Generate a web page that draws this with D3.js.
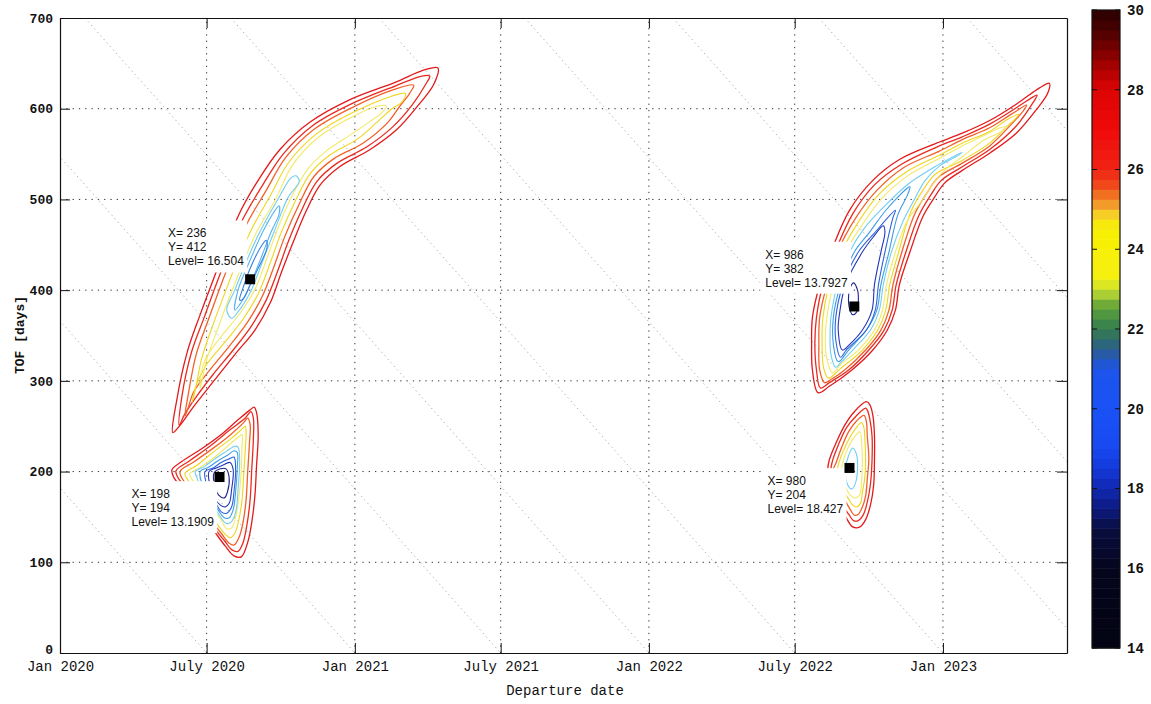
<!DOCTYPE html>
<html>
<head>
<meta charset="utf-8">
<script src="https://cdn.jsdelivr.net/npm/d3@7"></script>
<style>
  body { margin: 0; background: #fff; }
  svg { display: block; }
</style>
</head>
<body>
<script>
// ---- axis data ----
const xTickDays = [0, 182, 366, 547, 731, 912, 1096];
const xTickLabels = ["Jan 2020", "July 2020", "Jan 2021", "July 2021", "Jan 2022", "July 2022", "Jan 2023"];
const yTicks = [0, 100, 200, 300, 400, 500, 600, 700];
// constant arrival date lines (days from Jan 2020)
const arrivalDays = [182, 366, 547, 731, 912, 1096, 1277, 1461, 1642, 1826];

// ---- colorbar ----
const cbTicks = [14, 16, 18, 20, 22, 24, 26, 28, 30];
const cmapValues = [14, 16, 17, 17.5, 18, 18.5, 19, 20, 21, 21.4, 21.8, 22.2, 22.6, 23, 23.3, 24.5, 24.8, 25, 25.3, 25.6, 26, 27, 28, 28.5, 29, 29.5, 30];
const cmapColors = ["#030312", "#05061e", "#080e40", "#0c1a80", "#1028b0", "#1438d8", "#1848f0", "#1a52f6", "#1c54ec", "#2a5aa0", "#2f7060", "#3e8a48", "#6aa838", "#c8e030", "#f6f010", "#f8f000", "#f8e020", "#f4b030", "#f07c22", "#f04a1a", "#f02414", "#f00a0a", "#dc0404", "#b00000", "#7a0000", "#4a0000", "#2a0000"];

// ---- contour line colours by level ----
const lineLevels = [17, 18, 19, 20, 21, 24, 24.5, 25.5, 26, 26.5];
const lineColors = ["#1a2290", "#2234b8", "#2c62dc", "#3d9be6", "#72cdf2", "#f3ea66", "#f0d51e", "#f2602a", "#ea2a20", "#e31a1c"];

// ---- contours: [departure day, TOF days] ----
const contoursA = [
  {level: 26.5, pts: [[140,243],[145,279],[158,332],[174,373],[190,411],[205,446],[223,485],[246,521],[273,555],[310,585],[360,610],[416,629],[453,643],[469,645],[464,627],[443,602],[418,577],[385,555],[347,536],[323,516],[306,488],[289,452],[275,420],[261,386],[242,356],[217,329],[192,301],[167,273],[149,251]]},
  {level: 26, pts: [[148,251],[151,281],[163,331],[179,370],[195,409],[210,443],[228,480],[251,515],[277,550],[313,581],[361,605],[416,625],[449,636],[459,636],[454,627],[437,604],[413,580],[381,558],[344,540],[319,520],[302,492],[284,455],[271,423],[256,389],[238,361],[215,334],[190,307],[168,281],[154,262]]},
  {level: 25.5, pts: [[155,261],[159,284],[169,329],[184,367],[200,406],[215,440],[233,475],[256,510],[280,546],[315,577],[362,601],[414,621],[439,626],[434,617],[422,603],[407,585],[376,562],[340,545],[315,525],[297,495],[279,459],[266,427],[251,393],[233,365],[210,338],[186,312],[166,288],[159,270]]},
  {level: 24.5, pts: [[164,276],[168,290],[176,325],[190,362],[206,400],[221,434],[240,471],[261,504],[284,541],[318,572],[364,596],[409,613],[429,617],[424,607],[412,600],[397,588],[370,567],[335,549],[311,529],[292,498],[274,462],[261,430],[246,396],[228,369],[206,344],[182,318],[169,295]]},
  {level: 24, pts: [[174,292],[182,323],[196,358],[212,396],[227,429],[244,464],[267,499],[288,537],[320,568],[365,592],[395,603],[405,603],[400,596],[385,586],[362,572],[330,553],[308,534],[287,502],[269,465],[256,433],[241,399],[223,374],[201,350],[181,325],[175,307]]},
  {level: 21, pts: [[213,369],[207,378],[217,400],[231,431],[248,464],[271,501],[287,524],[293,526],[297,520],[283,502],[266,465],[252,433],[237,399],[221,376]]},
  {level: 20.5, pts: [[217,378],[221,400],[235,431],[251,463],[267,488],[272,493],[272,484],[262,464],[248,432],[233,400],[223,384]]},
  {level: 19.5, pts: [[223,389],[227,402],[238,428],[251,450],[256,455],[257,447],[246,424],[236,406],[228,391]]}
];

const contoursB = [
  {level: 26.5, pts: [[139,202],[151,211],[174,224],[199,240],[221,257],[236,268],[241,271],[244,265],[246,240],[244,207],[242,174],[238,144],[233,122],[225,106],[216,107],[205,118],[190,136],[171,158],[153,180],[141,194]]},
  {level: 26, pts: [[144,201],[161,212],[186,228],[211,246],[230,259],[237,266],[240,259],[240,235],[238,202],[236,169],[232,141],[227,121],[221,112],[213,114],[204,124],[189,140],[171,161],[155,183],[146,194]]},
  {level: 25.5, pts: [[149,200],[165,210],[189,225],[212,241],[228,254],[233,259],[236,252],[235,229],[233,200],[231,169],[227,143],[222,127],[216,119],[210,121],[200,132],[186,148],[170,167],[156,186]]},
  {level: 24.5, pts: [[155,198],[170,207],[191,222],[212,236],[226,247],[230,250],[231,244],[230,224],[228,196],[226,169],[222,147],[217,132],[211,127],[205,131],[195,142],[182,158],[169,174],[160,189]]},
  {level: 24, pts: [[161,197],[175,205],[195,218],[213,232],[223,239],[226,241],[226,229],[225,202],[222,171],[218,150],[213,138],[207,137],[199,148],[186,163],[172,180],[165,190]]},
  {level: 21, pts: [[168,200],[180,206],[192,214],[206,222],[217,228],[221,227],[223,213],[221,180],[218,155],[212,144],[206,143],[197,153],[186,168],[175,183],[170,193]]},
  {level: 20, pts: [[174,200],[185,205],[196,212],[208,218],[216,223],[220,221],[220,204],[218,178],[215,158],[210,149],[204,149],[196,158],[186,171],[177,185]]},
  {level: 19, pts: [[180,200],[190,204],[200,210],[210,214],[216,216],[218,202],[216,178],[213,161],[207,154],[201,155],[194,164],[185,176],[181,189]]},
  {level: 18, pts: [[185,200],[194,204],[202,207],[211,210],[215,202],[213,180],[210,165],[205,161],[199,163],[191,172],[186,185]]},
  {level: 17, pts: [[191,198],[199,203],[206,203],[210,193],[208,178],[204,171],[197,174],[192,185]]}
];

const contoursC = [
  {level: 26.5, pts: [[941,287],[934,312],[933,340],[934,370],[943,406],[957,442],[980,488],[1009,521],[1042,544],[1088,562],[1120,573],[1154,587],[1187,605],[1216,623],[1228,628],[1226,617],[1212,599],[1187,573],[1154,551],[1120,532],[1098,518],[1086,503],[1071,481],[1055,442],[1042,406],[1037,378],[1027,356],[1009,334],[983,312],[955,294]]},
  {level: 26, pts: [[944,292],[939,312],[937,340],[939,370],[947,406],[962,442],[984,484],[1011,516],[1045,539],[1089,558],[1120,569],[1154,583],[1187,601],[1206,612],[1213,615],[1208,607],[1187,581],[1154,555],[1120,536],[1094,521],[1081,505],[1066,482],[1050,442],[1038,406],[1033,378],[1023,356],[1004,334],[979,312],[955,298]]},
  {level: 25.5, pts: [[949,298],[943,312],[942,340],[943,370],[952,406],[965,442],[988,480],[1014,510],[1047,535],[1091,553],[1120,566],[1154,579],[1181,594],[1200,604],[1196,598],[1181,583],[1154,559],[1120,540],[1091,525],[1076,507],[1061,484],[1045,442],[1034,406],[1029,378],[1019,356],[1000,334],[974,312],[958,302]]},
  {level: 24.5, pts: [[954,303],[948,314],[946,340],[947,370],[955,406],[970,442],[991,475],[1017,506],[1050,530],[1092,549],[1120,562],[1154,575],[1176,588],[1190,594],[1185,588],[1176,581],[1154,562],[1120,543],[1087,528],[1071,510],[1056,486],[1041,442],[1030,406],[1025,378],[1015,356],[996,334],[968,313]]},
  {level: 24, pts: [[959,309],[953,320],[950,340],[952,370],[960,406],[975,442],[995,471],[1021,502],[1052,526],[1093,546],[1120,559],[1148,571],[1164,578],[1174,580],[1169,575],[1148,566],[1120,547],[1098,532],[1082,515],[1068,496],[1052,477],[1037,442],[1026,406],[1021,378],[1011,356],[991,334],[969,318]]},
  {level: 21, pts: [[963,315],[957,329],[956,356],[957,370],[965,406],[980,442],[999,469],[1024,493],[1053,517],[1086,536],[1120,552],[1114,548],[1092,537],[1074,521],[1060,499],[1046,475],[1032,442],[1022,406],[1017,378],[1006,356],[984,334],[969,320]]},
  {level: 20, pts: [[966,321],[960,340],[960,370],[969,406],[986,442],[1005,464],[1027,490],[1055,514],[1052,505],[1040,483],[1029,442],[1019,406],[1014,378],[1001,356],[979,334]]},
  {level: 19, pts: [[969,326],[963,345],[963,370],[972,406],[991,442],[1010,462],[1037,488],[1034,480],[1024,442],[1016,406],[1012,378],[1001,356],[976,334]]},
  {level: 18, pts: [[971,334],[966,356],[967,370],[975,406],[996,442],[1009,458],[1022,471],[1024,464],[1019,442],[1011,406],[1008,378],[996,356],[980,340]]},
  {level: 17, pts: [[985,408],[990,400],[991,389],[989,376],[984,373],[980,380],[979,395],[981,403]]}
];

const contoursD = [
  {level: 26.5, pts: [[1001,277],[986,266],[974,251],[963,231],[955,213],[953,202],[959,180],[968,163],[976,149],[984,139],[993,139],[1000,147],[1006,163],[1010,185],[1011,213],[1011,240],[1009,262],[1005,274]]},
  {level: 26, pts: [[1000,270],[988,261],[976,248],[966,229],[959,212],[957,202],[963,181],[970,165],[979,153],[985,146],[991,146],[997,152],[1002,166],[1006,186],[1008,213],[1008,239],[1005,259],[1002,268]]},
  {level: 25.5, pts: [[998,262],[989,256],[979,244],[970,226],[963,209],[960,202],[966,182],[974,169],[981,158],[986,152],[991,153],[996,161],[1000,173],[1002,191],[1004,215],[1002,240],[1001,255]]},
  {level: 24.5, pts: [[995,254],[988,248],[980,237],[972,222],[966,207],[965,200],[970,183],[978,171],[984,163],[989,161],[994,166],[996,177],[999,193],[1000,215],[999,237],[998,248]]},
  {level: 24, pts: [[993,244],[986,238],[978,226],[972,211],[970,197],[975,183],[981,174],[988,171],[993,175],[995,189],[996,211],[995,232]]},
  {level: 21, pts: [[984,226],[989,218],[990,204],[988,189],[983,181],[978,185],[975,202],[979,218]]}
];

// ---- data tips ----
const tipX = [236, 198, 986, 980];
const tipY = [412, 194, 382, 204];
const tipLevel = ["16.504", "13.1909", "13.7927", "18.427"];

// =====================================================
const width = 1151, height = 704;
const svg = d3.select("body").append("svg")
    .attr("width", width)
    .attr("height", height)
    .style("background", "#fff");

const x = d3.scaleLinear().domain([0, 1250]).range([60, 1067]);
const y = d3.scaleLinear().domain([0, 700]).range([653, 18]);
const lineColor = d3.scaleLinear().domain(lineLevels).range(lineColors);

svg.append("clipPath").attr("id", "plotclip")
  .append("rect")
    .attr("x", x(0)).attr("y", y(700))
    .attr("width", x(1250) - x(0)).attr("height", y(0) - y(700));

// grid
const grid = svg.append("g").attr("stroke", "#333").attr("stroke-width", 1).attr("stroke-dasharray", "1.3,5");
grid.selectAll(".gy").data(yTicks.slice(1, -1)).enter().append("line")
    .attr("x1", x(0)).attr("x2", x(1250))
    .attr("y1", d => y(d)).attr("y2", d => y(d));
grid.selectAll(".gx").data(xTickDays.slice(1)).enter().append("line")
    .attr("x1", d => x(d)).attr("x2", d => x(d))
    .attr("y1", y(0)).attr("y2", y(700));

// arrival-date diagonals
svg.append("g").attr("clip-path", "url(#plotclip)")
  .selectAll("line").data(arrivalDays).enter().append("line")
    .attr("x1", d => x(d - 700)).attr("y1", y(700))
    .attr("x2", d => x(d)).attr("y2", y(0))
    .attr("stroke", "#a8a8a8").attr("stroke-width", 1).attr("stroke-dasharray", "1.2,3.5");

// contours
const line = d3.line()
    .x(d => x(d[0])).y(d => y(d[1]))
    .curve(d3.curveCatmullRomClosed.alpha(0.5));

const cg = svg.append("g").attr("clip-path", "url(#plotclip)").attr("fill", "none");
[contoursA, contoursB, contoursC, contoursD].forEach(set => {
    cg.selectAll(null).data(set).enter().append("path")
        .attr("d", d => line(d.pts))
        .attr("stroke", d => lineColor(d.level))
        .attr("stroke-width", d => d.level >= 25 ? 1.3 : 1.1);
});

// data tips
const tipOffsets = [[-82, -46], [-88, 17], [-89, -52], [-82, 13]];
tipX.forEach((tx, i) => {
    const px = x(tx), py = y(tipY[i]);
    const g = svg.append("g");
    const tg = g.append("g")
        .attr("font-family", "'Liberation Sans', Arial, sans-serif")
        .attr("font-size", 12).attr("fill", "#111");
    const lines = ["X= " + tx, "Y= " + tipY[i], "Level= " + tipLevel[i]];
    lines.forEach((t, k) => {
        tg.append("text")
            .attr("x", px + tipOffsets[i][0])
            .attr("y", py + tipOffsets[i][1] + k * 14)
            .attr("dy", "0.35em")
            .text(t);
    });
    const bb = tg.node().getBBox();
    g.insert("rect", ":first-child")
        .attr("x", bb.x - 5).attr("y", bb.y - 6)
        .attr("width", bb.width + 8).attr("height", bb.height + 10)
        .attr("fill", "#fff");
    svg.append("rect")
        .attr("x", px - 5).attr("y", py - 5)
        .attr("width", 10).attr("height", 10)
        .attr("fill", "#000");
});

// axes
const axB = svg.append("g").attr("transform", `translate(0,${y(0)})`)
    .call(d3.axisBottom(x).tickValues(xTickDays).tickFormat((d, i) => xTickLabels[i])
        .tickSizeInner(-10).tickSizeOuter(0).tickPadding(8));
axB.selectAll("text").attr("font-family", "'Liberation Mono', 'Courier New', monospace")
    .attr("font-size", 14).attr("fill", "#111");

const axL = svg.append("g").attr("transform", `translate(${x(0)},0)`)
    .call(d3.axisLeft(y).tickValues(yTicks).tickSizeInner(-10).tickSizeOuter(0).tickPadding(7));
axL.selectAll("text").attr("font-family", "'Liberation Mono', 'Courier New', monospace")
    .attr("font-size", 13).attr("font-weight", "bold").attr("fill", "#111")
    .attr("dy", d => d === 0 ? "0.05em" : "0.32em");

svg.append("g").attr("transform", `translate(0,${y(700)})`)
    .call(d3.axisTop(x).tickValues(xTickDays).tickFormat("").tickSizeInner(-10).tickSizeOuter(0));
svg.append("g").attr("transform", `translate(${x(1250)},0)`)
    .call(d3.axisRight(y).tickValues(yTicks).tickFormat("").tickSizeInner(-10).tickSizeOuter(0));

svg.selectAll(".domain").attr("stroke", "#111").attr("stroke-width", 1.2);
svg.selectAll(".tick line").attr("stroke", "#111");

// axis titles
svg.append("text")
    .attr("x", 565).attr("y", 695)
    .attr("text-anchor", "middle")
    .attr("font-family", "'Liberation Mono', 'Courier New', monospace")
    .attr("font-size", 14).attr("fill", "#111")
    .text("Departure date");
svg.append("text")
    .attr("transform", "translate(19,335) rotate(-90)")
    .attr("text-anchor", "middle")
    .attr("dy", "0.35em")
    .attr("font-family", "'Liberation Mono', 'Courier New', monospace")
    .attr("font-size", 13).attr("font-weight", "bold").attr("fill", "#111")
    .text("TOF [days]");

// colorbar
const cb = d3.scaleLinear().domain([14, 30]).range([648, 10]);
const cmap = d3.scaleLinear().domain(cmapValues).range(cmapColors);
const cbX = 1092, cbW = 28;
const bands = d3.range(64).map(i => 14 + i * 0.25);
svg.append("g").selectAll("rect").data(bands).enter().append("rect")
    .attr("x", cbX).attr("y", d => cb(d + 0.25))
    .attr("width", cbW).attr("height", d => cb(d) - cb(d + 0.25) + 0.5)
    .attr("fill", d => cmap(d + 0.125));
svg.append("rect")
    .attr("x", cbX).attr("y", cb(30)).attr("width", cbW).attr("height", cb(14) - cb(30))
    .attr("fill", "none").attr("stroke", "#111").attr("stroke-width", 1.2);
const cbt = svg.append("g");
cbt.selectAll(".l").data(cbTicks).enter().append("line")
    .attr("x1", cbX).attr("x2", cbX + 5).attr("y1", d => cb(d)).attr("y2", d => cb(d))
    .attr("stroke", "#111");
cbt.selectAll(".r").data(cbTicks).enter().append("line")
    .attr("x1", cbX + cbW - 5).attr("x2", cbX + cbW).attr("y1", d => cb(d)).attr("y2", d => cb(d))
    .attr("stroke", "#111");
cbt.selectAll("text").data(cbTicks).enter().append("text")
    .attr("x", cbX + cbW + 7).attr("y", d => cb(d)).attr("dy", "0.35em")
    .attr("font-family", "'Liberation Mono', 'Courier New', monospace")
    .attr("font-size", 14).attr("font-weight", "bold").attr("fill", "#111")
    .text(d => d);
</script>
</body>
</html>
